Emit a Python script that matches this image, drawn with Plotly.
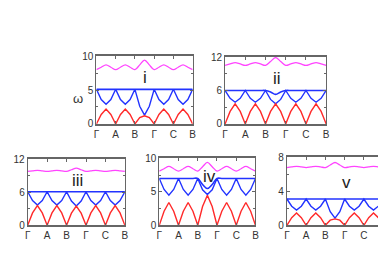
import plotly.graph_objects as go

# k-path sample positions (5 segments, quarter steps)
kpos = [0, 0.25, 0.5, 0.75, 1, 1.25, 1.5, 1.75, 2, 2.25, 2.5, 2.75,
        3, 3.25, 3.5, 3.75, 4, 4.25, 4.5, 4.75, 5]
tick_pos = [0, 1, 2, 3, 4, 5]
tick_lab = ["Γ", "A", "B", "Γ", "C", "B"]

# panel i
red_i = [0, 1.4, 2.2, 1.4, 0, 1.4, 2.2, 1.4, 0, 0.95, 1.2, 0.95, 0, 1.4, 2.2, 1.4, 0, 1.4, 2.2, 1.4, 0]
flat_i = [5.1] * 21
blue_i = [5.1, 3.6, 2.9, 3.6, 5.1, 3.6, 2.9, 3.6, 5.1, 2.6, 1.3, 2.6, 5.1, 3.6, 2.9, 3.6, 5.1, 3.6, 2.9, 3.6, 5.1]
mag_i = [8.0, 8.35, 8.7, 8.35, 8.0, 8.35, 8.7, 8.35, 8.0, 8.7, 9.4, 8.7, 8.0, 8.35, 8.7, 8.35, 8.0, 8.35, 8.7, 8.35, 8.0]

# panel ii
red_ii = [0, 2.25, 3.6, 2.25, 0, 2.25, 3.6, 2.25, 0, 2.25, 3.6, 2.25, 0, 2.25, 3.6, 2.25, 0, 2.25, 3.6, 2.25, 0]
flat_ii = [6, 6, 6, 6, 6, 6, 6, 6, 6, 5.75, 5.3, 5.75, 6, 6, 6, 6, 6, 6, 6, 6, 6]
blue_ii = [6, 4.6, 3.9, 4.6, 6, 4.6, 3.9, 4.6, 6, 4.4, 3.6, 4.4, 6, 4.6, 3.9, 4.6, 6, 4.6, 3.9, 4.6, 6]
mag_ii = [10.5, 10.75, 11.0, 10.75, 10.5, 10.75, 11.0, 10.75, 10.5, 11.2, 11.9, 11.2, 10.5, 10.75, 11.0, 10.75, 10.5, 10.75, 11.0, 10.75, 10.5]

# panel iii
red_iii = [0, 2.25, 3.6, 2.25, 0, 2.25, 3.6, 2.25, 0, 2.2, 3.5, 2.2, 0, 2.25, 3.6, 2.25, 0, 2.25, 3.6, 2.25, 0]
flat_iii = [6.1] * 21
blue_iii = [6.1, 4.5, 3.7, 4.5, 6.1, 4.5, 3.7, 4.5, 6.1, 4.4, 3.5, 4.4, 6.1, 4.5, 3.7, 4.5, 6.1, 4.5, 3.7, 4.5, 6.1]
mag_iii = [9.8, 9.9, 10.0, 9.9, 9.8, 9.9, 10.0, 9.9, 9.8, 10.1, 10.4, 10.1, 9.8, 9.9, 10.0, 9.9, 9.8, 9.9, 10.0, 9.9, 9.8]

# panel iv
red_iv = [0, 2.1, 3.4, 2.1, 0, 2.1, 3.4, 2.1, 0, 2.8, 4.5, 2.8, 0, 2.1, 3.4, 2.1, 0, 2.1, 3.4, 2.1, 0]
flat_iv = [7, 7, 7, 7, 7, 7, 7, 7, 7, 6.1, 5.5, 6.1, 7, 7, 7, 7, 7, 7, 7, 7, 7]
blue_iv = [7, 5.35, 4.5, 5.35, 7, 5.35, 4.5, 5.35, 7, 5.3, 4.6, 5.3, 7, 5.35, 4.5, 5.35, 7, 5.35, 4.5, 5.35, 7]
mag_iv = [8.1, 8.45, 8.8, 8.45, 8.1, 8.45, 8.8, 8.45, 8.1, 8.75, 9.4, 8.75, 8.1, 8.45, 8.8, 8.45, 8.1, 8.45, 8.8, 8.45, 8.1]

# panel v
red_v = [0, 0.9, 1.45, 0.9, 0, 0.9, 1.45, 0.9, 0, 0.6, 0.75, 0.6, 0, 0.9, 1.45, 0.9, 0, 0.9, 1.45, 0.9, 0]
flat_v = [3.1] * 21
blue_v = [3.1, 2.25, 1.8, 2.25, 3.1, 2.25, 1.8, 2.25, 3.1, 1.6, 0.85, 1.6, 3.1, 2.25, 1.8, 2.25, 3.1, 2.25, 1.8, 2.25, 3.1]
mag_v = [6.8, 6.88, 6.95, 6.88, 6.8, 6.88, 6.95, 6.88, 6.8, 7.1, 7.4, 7.1, 6.8, 6.88, 6.95, 6.88, 6.8, 6.88, 6.95, 6.88, 6.8]

panel_names = ["i", "ii", "iii", "iv", "v"]
y_max = [10, 12, 12, 10, 8]
y_dtick = [5, 6, 6, 5, 4]
label_xy = [(2.5, 6.8), (2.55, 8.2), (2.55, 8.2), (2.6, 7.3), (3.1, 5.1)]

panels = [
    (red_i, flat_i, blue_i, mag_i),
    (red_ii, flat_ii, blue_ii, mag_ii),
    (red_iii, flat_iii, blue_iii, mag_iii),
    (red_iv, flat_iv, blue_iv, mag_iv),
    (red_v, flat_v, blue_v, mag_v),
]

W, H = 386, 273
# pixel boxes (left, right, top, bottom)
boxes = [(87, 185, 44, 115), (218, 321, 45, 115), (17, 116, 152, 221),
         (151, 249, 151, 221), (281, 379, 150, 221)]

RED = "#ff2a2a"
BLUE = "#2233ff"
MAG = "#ff44ff"

fig = go.Figure()
layout = dict(
    width=W, height=H, margin=dict(l=0, r=0, t=0, b=0),
    paper_bgcolor="white", plot_bgcolor="white", showlegend=False,
    font=dict(family="Liberation Sans, Arial, sans-serif", size=10, color="#333"),
)
annotations = []
for k, (series, box) in enumerate(zip(panels, boxes)):
    n = "" if k == 0 else str(k + 1)
    xa, ya = "x" + n, "y" + n
    red, flat, blue, mag = series
    fig.add_trace(go.Scatter(x=kpos, y=mag, mode="lines", xaxis=xa, yaxis=ya,
                             line=dict(color=MAG, width=1.3, shape="spline")))
    fig.add_trace(go.Scatter(x=kpos, y=flat, mode="lines", xaxis=xa, yaxis=ya,
                             line=dict(color=BLUE, width=1.6, shape="spline")))
    fig.add_trace(go.Scatter(x=kpos, y=blue, mode="lines", xaxis=xa, yaxis=ya,
                             line=dict(color=BLUE, width=1.4)))
    fig.add_trace(go.Scatter(x=kpos, y=red, mode="lines", xaxis=xa, yaxis=ya,
                             line=dict(color=RED, width=1.4)))
    l, r, t, b = box
    layout["xaxis" + n] = dict(
        domain=[l / W, r / W], range=[0, 5], anchor=ya,
        tickmode="array", tickvals=tick_pos, ticktext=tick_lab,
        ticks="inside", ticklen=3, tickcolor="#666", mirror="ticks",
        showline=True, linecolor="#666", linewidth=1.5, showgrid=False,
        zeroline=False, fixedrange=True, tickfont=dict(size=10, color="#333"),
    )
    layout["yaxis" + n] = dict(
        domain=[1 - b / H, 1 - t / H], range=[0, y_max[k]], anchor=xa,
        tickmode="linear", tick0=0, dtick=y_dtick[k],
        ticks="inside", ticklen=3, tickcolor="#666", mirror="ticks",
        minor=dict(ticks="inside", ticklen=2, dtick=y_dtick[k] / 2, tickcolor="#666"),
        showline=True, linecolor="#666", linewidth=1, showgrid=False,
        zeroline=False, fixedrange=True, tickfont=dict(size=10, color="#333"),
    )
    lx, ly = label_xy[k]
    annotations.append(dict(x=lx, y=ly, xref=xa, yref=ya, text=panel_names[k],
                            showarrow=False, font=dict(size=17, color="#222")))

annotations.append(dict(x=61 / W, y=1 - 78 / H, xref="paper", yref="paper",
                        text="ω", showarrow=False, font=dict(size=13, color="#333")))
layout["annotations"] = annotations
fig.update_layout(**layout)
fig.write_html("out.html")
